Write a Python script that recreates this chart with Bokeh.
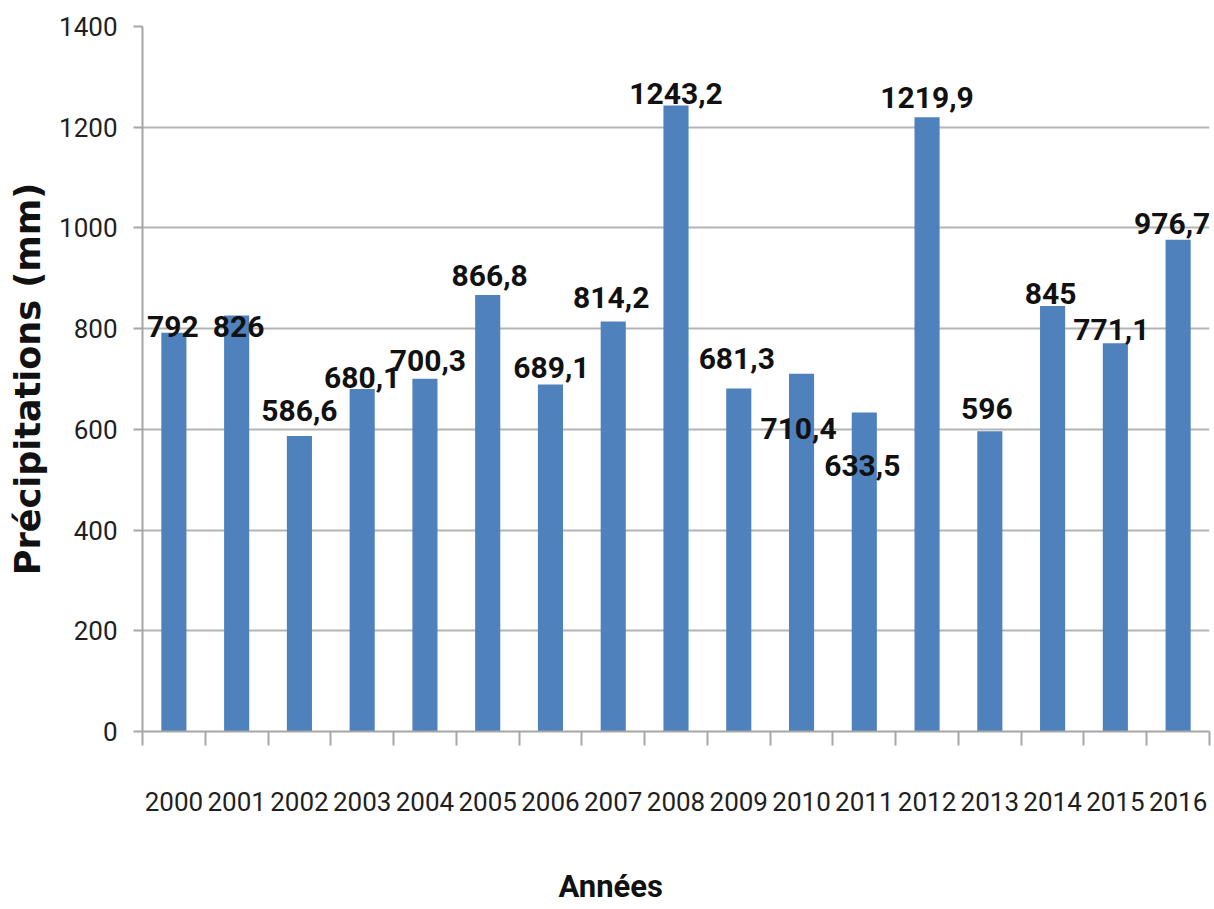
from bokeh.plotting import figure
from bokeh.models import Range1d, FixedTicker, LinearAxis, ColumnDataSource
from bokeh.embed import file_html
from bokeh.resources import INLINE
from bokeh.core.properties import value

# ---- data ----
years = ["2000", "2001", "2002", "2003", "2004", "2005", "2006", "2007", "2008",
         "2009", "2010", "2011", "2012", "2013", "2014", "2015", "2016"]
precip = [792, 826, 586.6, 680.1, 700.3, 866.8, 689.1, 814.2, 1243.2,
          681.3, 710.4, 633.5, 1219.9, 596, 845, 771.1, 976.7]
value_labels = ["792", "826", "586,6", "680,1", "700,3", "866,8", "689,1", "814,2", "1243,2",
                "681,3", "710,4", "633,5", "1219,9", "596", "845", "771,1", "976,7"]
y_ticks = [0, 200, 400, 600, 800, 1000, 1200, 1400]

# ---- label nudges (screen px, styling only) ----
label_dx = [-1, 2, 0, 0, 3, 2, 1, -2, 0, -2, -3, -2, 0, -3, -2, -4, -6]
label_dy = [-6, 11, -26, -12, -18, -20, -17, -24, -12, -30, 55, 53, -20, -23, -12, -14, -16]

TICKFONT = "Roboto"
x_title = "Années"
x_title_pos = 7.46   # horizontal placement of the x title (axis units)

n = len(years)
centers = [i + 0.5 for i in range(n)]
bounds = [float(i) for i in range(n + 1)]

src = ColumnDataSource(dict(x=centers, top=precip, lab=value_labels, dx=label_dx, dy=label_dy))

p = figure(width=1214, height=909,
           x_range=Range1d(0, n), y_range=Range1d(0, 1400),
           output_backend="svg", toolbar_location=None,
           min_border_left=142, min_border_right=5, min_border_top=26, min_border_bottom=178)
p.outline_line_color = None
p.background_fill_color = "white"
p.border_fill_color = "white"

p.vbar(x="x", top="top", width=0.4, bottom=0, source=src,
       fill_color="#4F81BD", line_color=None)

p.text(x="x", y="top", text="lab", x_offset="dx", y_offset="dy", source=src,
       text_align="center", text_baseline="middle",
       text_font=value("Roboto"), text_font_size="30px", text_font_style="bold",
       text_color="#111111")

# grid
p.xgrid.visible = False
p.ygrid.ticker = FixedTicker(ticks=y_ticks)
p.ygrid.grid_line_color = "#b4b4b4"
p.ygrid.grid_line_width = 2

# x axis
xa = p.xaxis[0]
xa.ticker = FixedTicker(ticks=centers, minor_ticks=bounds)
xa.major_label_overrides = {c: y for c, y in zip(centers, years)}
xa.major_tick_out = 0
xa.major_tick_in = 0
xa.minor_tick_out = 14
xa.minor_tick_in = 0
xa.minor_tick_line_color = "#a6a6a6"
xa.minor_tick_line_width = 2
xa.axis_line_color = "#a6a6a6"
xa.axis_line_width = 2
xa.major_label_standoff = 46
xa.major_label_text_font = TICKFONT
xa.major_label_text_font_size = "26px"
xa.major_label_text_color = "#1f1f1f"

# second (label-only) axis carrying the x title, placed like the reference
xt = LinearAxis(ticker=FixedTicker(ticks=[x_title_pos], minor_ticks=[]),
                major_label_overrides={x_title_pos: x_title})
xt.axis_line_color = None
xt.major_tick_out = 0
xt.major_tick_in = 0
xt.minor_tick_out = 0
xt.minor_tick_in = 0
xt.major_label_standoff = 54
xt.major_label_text_font = "Roboto"
xt.major_label_text_font_size = "31px"
xt.major_label_text_font_style = "bold"
xt.major_label_text_color = "#111111"
p.add_layout(xt, "below")

# y axis
ya = p.yaxis[0]
ya.ticker = FixedTicker(ticks=y_ticks)
ya.major_tick_out = 9
ya.major_tick_in = 0
ya.minor_tick_out = 0
ya.minor_tick_in = 0
ya.major_tick_line_color = "#a6a6a6"
ya.major_tick_line_width = 2
ya.axis_line_color = "#a6a6a6"
ya.axis_line_width = 2
ya.major_label_standoff = 16
ya.major_label_text_font = TICKFONT
ya.major_label_text_font_size = "26px"
ya.major_label_text_color = "#1f1f1f"
ya.axis_label = "Précipitations (mm)"
ya.axis_label_text_font = "DejaVu Sans"
ya.axis_label_text_font_size = "35px"
ya.axis_label_text_font_style = "bold"
ya.axis_label_text_color = "#111111"
ya.axis_label_standoff = 8

open("out.html", "w").write(file_html(p, INLINE))
